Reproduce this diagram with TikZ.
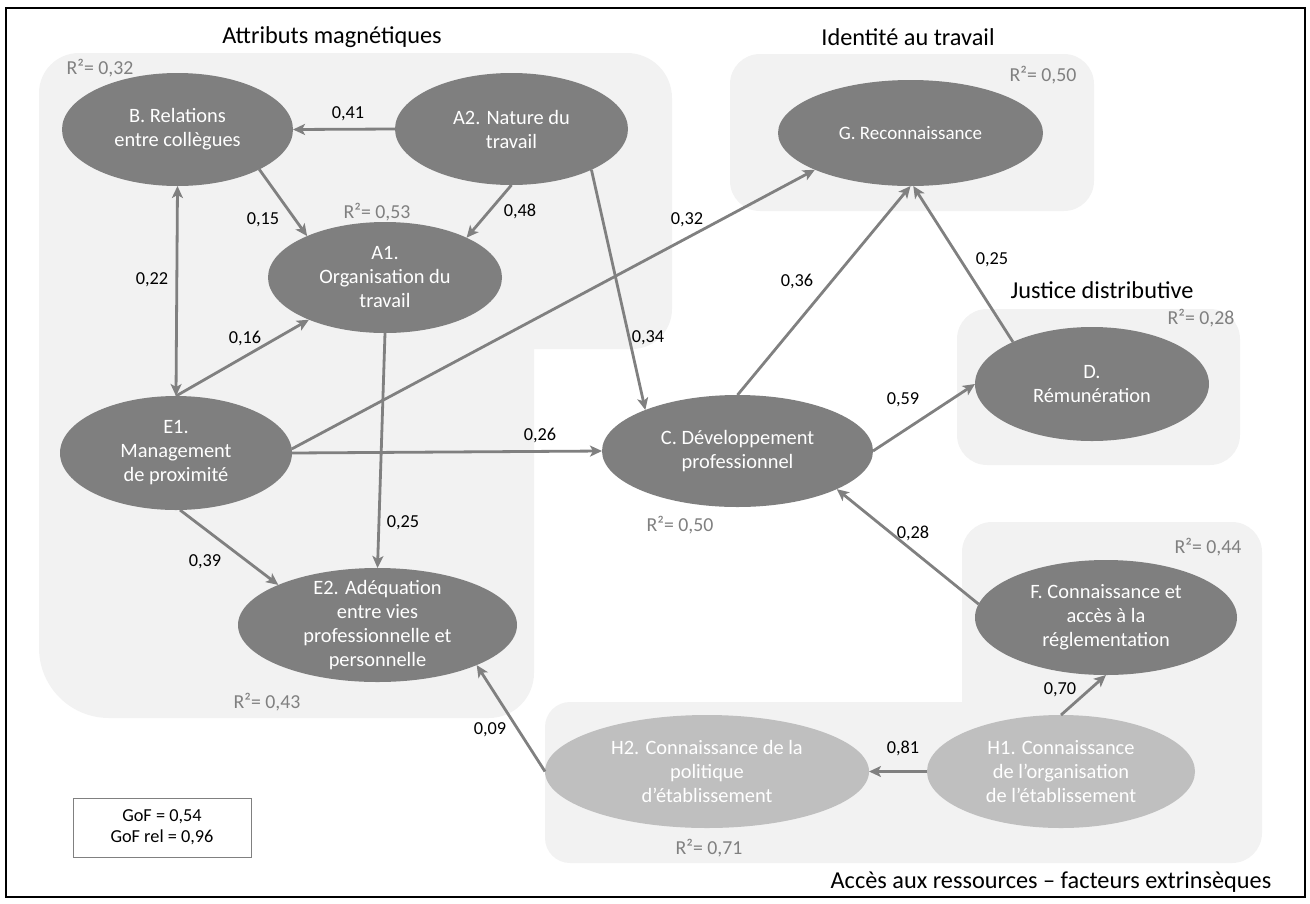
\documentclass[tikz,border=0pt]{standalone}
\usepackage{fontspec}
\setmainfont{Carlito}
\usetikzlibrary{arrows.meta,shapes.geometric}
\definecolor{grpbg}{HTML}{F2F2F2}
\definecolor{elldark}{HTML}{7F7F7F}
\definecolor{elllight}{HTML}{BFBFBF}
\definecolor{linegray}{HTML}{808080}
\definecolor{rgray}{HTML}{808080}
\begin{document}
\begin{tikzpicture}[x=1pt,y=1pt,
  ell/.style={ellipse, draw=none, fill=elldark, inner sep=0pt, outer sep=0pt},
  ellh/.style={ellipse, draw=none, fill=elllight, inner sep=0pt, outer sep=0pt},
  etxt/.style={text=white, align=center, font=\fontsize{20.4}{24}\selectfont, inner sep=0pt},
  num/.style={text=black, font=\fontsize{18.3}{21}\selectfont, inner sep=0pt},
  rsq/.style={text=rgray, font=\fontsize{19.8}{22}\selectfont, inner sep=0pt},
  grptitle/.style={text=black, font=\fontsize{24.3}{28}\selectfont, inner sep=0pt},
  conn/.style={draw=linegray, line width=2.8pt, -{Stealth[length=12pt,width=11pt,inset=3pt]}},
  connboth/.style={draw=linegray, line width=2.8pt, {Stealth[length=12pt,width=11pt,inset=3pt]}-{Stealth[length=12pt,width=11pt,inset=3pt]}},
  grp/.style={fill=grpbg, draw=none}
]
\useasboundingbox (0,0) rectangle (1310,-903);

% group backgrounds
\path[grp] (39,-93) arc[start angle=180,end angle=90,radius=40pt] -- (627,-53)
  arc[start angle=90,end angle=0,radius=45pt] -- (672,-309)
  arc[start angle=0,end angle=-90,radius=40pt] -- (534,-349) -- (534,-673)
  arc[start angle=0,end angle=-90,radius=45pt] -- (109,-718)
  arc[start angle=270,end angle=180,radius=70pt] -- cycle;
\path[grp, rounded corners=30pt] (730,-54) rectangle (1094,-211);
\path[grp, rounded corners=30pt] (957,-309) rectangle (1240,-465);
\path[grp] (545,-727) arc[start angle=180,end angle=90,radius=25pt] -- (962,-702) -- (962,-552)
  arc[start angle=180,end angle=90,radius=30pt] -- (1232,-522)
  arc[start angle=90,end angle=0,radius=30pt] -- (1262,-833)
  arc[start angle=0,end angle=-90,radius=30pt] -- (570,-863)
  arc[start angle=270,end angle=180,radius=25pt] -- cycle;

% frame
\draw[line width=2pt] (6,-8) rectangle (1305,-897);

% group titles
\node[grptitle] (tA) at (332,-37) {Attributs magnétiques};
\node[grptitle] (tG) at (908,-37) {Identité au travail};
\node[grptitle] (tD) at (1102,-290) {Justice distributive};
\node[grptitle] (tH) at (1051,-882) {Accès aux ressources – facteurs extrinsèques};

% ellipses
\node[ell, minimum width=231pt, minimum height=113pt] (B) at (177.5,-129.5) {};
\node[ell, minimum width=233pt, minimum height=112pt] (A2) at (511.5,-129) {};
\node[ell, minimum width=234pt, minimum height=111pt] (A1) at (385,-277.5) {};
\node[ell, minimum width=232pt, minimum height=114pt] (E1) at (176,-453) {};
\node[ell, minimum width=279pt, minimum height=114pt] (E2) at (377.5,-625) {};
\node[ell, minimum width=271pt, minimum height=112pt] (C) at (737.5,-451) {};
\node[ell, minimum width=265pt, minimum height=106pt] (G) at (910.5,-133) {};
\node[ell, minimum width=234pt, minimum height=114pt] (D) at (1092,-384) {};
\node[ell, minimum width=262pt, minimum height=115pt] (F) at (1106,-617.5) {};
\node[ellh, minimum width=324pt, minimum height=113pt] (H2) at (707,-771.5) {};
\node[ellh, minimum width=268pt, minimum height=113pt] (H1) at (1061,-771.5) {};

% ellipse texts
\node[etxt] (Bt) at (B) {B. Relations\\entre collègues};
\node[etxt] (A2t) at (A2) {A2. Nature du\\travail};
\node[etxt] (A1t) at (A1) {A1.\\Organisation du\\travail};
\node[etxt] (E1t) at (E1) {E1.\\Management\\de proximité};
\node[etxt] (E2t) at (E2) {E2. Adéquation\\entre vies\\professionnelle et\\personnelle};
\node[etxt] (Ct) at (C) {C. Développement\\professionnel};
\node[etxt, font=\fontsize{19}{23}\selectfont] (Gt) at (G) {G. Reconnaissance};
\node[etxt] (Dt) at (D) {D.\\Rémunération};
\node[etxt] (Ft) at (F) {F. Connaissance et\\accès à la\\réglementation};
\node[etxt] (H2t) at (H2) {H2. Connaissance de la\\politique\\d’établissement};
\node[etxt] (H1t) at (H1) {H1. Connaissance\\de l’organisation\\de l’établissement};

% R² labels
\node[rsq] (r1) at (100,-68) {R²= 0,32};
\node[rsq] (r2) at (377,-212) {R²= 0,53};
\node[rsq] (r3) at (1043,-75) {R²= 0,50};
\node[rsq] (r4) at (1201,-318) {R²= 0,28};
\node[rsq] (r5) at (680,-525) {R²= 0,50};
\node[rsq] (r6) at (1208,-547) {R²= 0,44};
\node[rsq] (r7) at (267,-702) {R²= 0,43};
\node[rsq] (r8) at (709,-848) {R²= 0,71};

% connectors
\draw[conn] (A2.west) -- (B.east);
\draw[conn] (B.-26.1) -- (A1.152.9);
\draw[conn] (A2.south) -- (A1.26.3);
\draw[conn] (A2.-27) -- (C.156.5);
\draw[connboth] (B.south) -- (E1.north);
\draw[conn] (E1.north) -- (A1.209.1);
\draw[conn] (A1.south) -- (E2.north);
\draw[conn] (E1.-86) -- (E2.158.7);
\draw[conn] (E1.east) -- (C.west);
\draw[conn] (E1.2) -- (G.201.6);
\draw[conn] (C.north) -- (G.south);
\draw[conn] (D.152.9) -- (G.-87.3);
\draw[conn] (C.east) -- (D.west);
\draw[conn] (F.174.5) -- (C.-21.8);
\draw[conn] (H1.north) -- (F.south);
\draw[conn] (H1.west) -- (H2.east);
\draw[conn] (H2.west) -- (E2.-22.9);

% coefficient labels
\node[num] (n41) at (348,-114) {0,41};
\node[num] (n15) at (263,-220) {0,15};
\node[num] (n48) at (520,-211) {0,48};
\node[num] (n34) at (648,-338) {0,34};
\node[num] (n22) at (152,-280) {0,22};
\node[num] (n16) at (245,-338) {0,16};
\node[num] (n25a) at (403,-523) {0,25};
\node[num] (n39) at (205,-562) {0,39};
\node[num] (n26) at (540,-435) {0,26};
\node[num] (n32) at (687,-220) {0,32};
\node[num] (n36) at (797,-281) {0,36};
\node[num] (n25b) at (992,-260) {0,25};
\node[num] (n59) at (903,-400) {0,59};
\node[num] (n28) at (913,-533) {0,28};
\node[num] (n70) at (1060,-690) {0,70};
\node[num] (n81) at (903,-748) {0,81};
\node[num] (n09) at (490,-730) {0,09};

% GoF box
\node[draw=linegray, line width=1pt, minimum width=178pt, minimum height=59pt, align=center,
  font=\fontsize{18.3}{21}\selectfont, inner sep=0pt] (gof) at (162,-827.5) {GoF = 0,54\\GoF rel = 0,96};
\end{tikzpicture}
\end{document}
